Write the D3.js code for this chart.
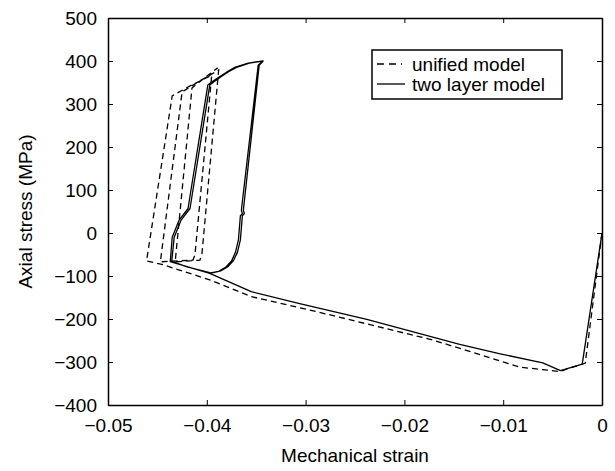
<!DOCTYPE html>
<html>
<head>
<meta charset="utf-8">
<script src="https://cdn.jsdelivr.net/npm/d3@7"></script>
<style>
  body { margin: 0; background: #fff; }
  text { font-family: "Liberation Sans", Arial, sans-serif; fill: #000; }
</style>
</head>
<body>
<div id="chart"></div>
<script>
// strain / stress pairs
var solidStrain = [0, -0.0020, -0.0042, -0.0060, -0.0103, -0.0144, -0.0238, -0.0306, -0.0355, -0.0397, -0.0437,
  // first cycle
  -0.0435, -0.0428, -0.0419, -0.0399, -0.0394, -0.0388, -0.0380, -0.0371, -0.0358, -0.0343,
  -0.0348, -0.0365, -0.0364, -0.0366, -0.0368, -0.0371, -0.0375, -0.0381, -0.0388, -0.0396, -0.0420, -0.04355,
  // second cycle
  -0.0433, -0.0426, -0.0417, -0.0397, -0.0392, -0.0386, -0.0378, -0.0369, -0.0357, -0.0343,
  -0.0347, -0.0363, -0.0362, -0.0364, -0.0366, -0.0369, -0.0373, -0.0379, -0.0386, -0.0393];
var solidStress = [0, -305, -320, -302, -281, -259, -201, -164, -136.5, -94, -66.7,
  -10, 30, 57, 344, 353, 362, 374, 386, 395, 400.5,
  390, 53, 45, 40, -16, -45, -65, -80, -89, -93, -79, -66,
  -10, 30, 57, 344, 353, 363, 375, 386, 395, 400,
  390, 53, 45, 40, -16, -45, -64, -79, -88, -92];

var dashedStrain = [0, -0.0017, -0.0043, -0.0083, -0.0171, -0.0285, -0.0355, -0.0397, -0.0444, -0.0461,
  -0.0435, -0.0417, -0.0395,
  -0.0412, -0.0414, -0.0447,
  -0.0425, -0.0407, -0.0388,
  -0.0405, -0.0407, -0.0432,
  -0.0415, -0.0402, -0.0389];
var dashedStress = [0, -303, -322, -312, -249, -185, -148, -109, -74, -65,
  319, 342, 367,
  -51, -63, -67,
  328, 354, 379,
  -51, -63, -67,
  337, 361, 384];

var xTicks = [-0.05, -0.04, -0.03, -0.02, -0.01, 0];
var xTickLabels = ["\u22120.05", "\u22120.04", "\u22120.03", "\u22120.02", "\u22120.01", "0"];
var yTicks = [-400, -300, -200, -100, 0, 100, 200, 300, 400, 500];
var yTickLabels = ["\u2212400", "\u2212300", "\u2212200", "\u2212100", "0", "100", "200", "300", "400", "500"];
var seriesNames = ["unified model", "two layer model"];

var svgWidth = 615;
var svgHeight = 471;
var margin = {top: 18, right: 13, bottom: 66, left: 108};
var width = svgWidth - margin.left - margin.right;
var height = svgHeight - margin.top - margin.bottom;

var svg = d3.select("#chart")
  .append("svg")
  .attr("width", svgWidth)
  .attr("height", svgHeight);

var chartGroup = svg.append("g")
  .attr("transform", `translate(${margin.left}, ${margin.top})`);

var xScale = d3.scaleLinear().domain([-0.05, 0]).range([0, width]);
var yScale = d3.scaleLinear().domain([-400, 500]).range([height, 0]);

// inward ticks on all four sides, matlab style
var xAxis = d3.axisBottom(xScale).tickValues(xTicks)
  .tickFormat((d, i) => xTickLabels[i]).tickSizeInner(-5).tickSizeOuter(0).tickPadding(14);
var yAxis = d3.axisLeft(yScale).tickValues(yTicks)
  .tickFormat((d, i) => yTickLabels[i]).tickSizeInner(-5).tickSizeOuter(0).tickPadding(11);

var gx = chartGroup.append("g").attr("transform", `translate(0, ${height})`).call(xAxis);
var gy = chartGroup.append("g").call(yAxis);
var gxTop = chartGroup.append("g").call(d3.axisTop(xScale).tickValues(xTicks).tickFormat("").tickSizeInner(-5).tickSizeOuter(0));
var gyRight = chartGroup.append("g").attr("transform", `translate(${width}, 0)`)
  .call(d3.axisRight(yScale).tickValues(yTicks).tickFormat("").tickSizeInner(-5).tickSizeOuter(0));

[gx, gy, gxTop, gyRight].forEach(function(g) {
  g.select(".domain").attr("stroke", "#000").attr("stroke-width", 1.5);
  g.selectAll(".tick line").attr("stroke", "#000").attr("stroke-width", 1);
  g.selectAll(".tick text").attr("font-size", "19px")
    .attr("font-family", "Liberation Sans, Arial, sans-serif").attr("fill", "#000");
});

var line = d3.line()
  .x(d => xScale(d[0]))
  .y(d => yScale(d[1]));

var dashedData = dashedStrain.map((s, i) => [s, dashedStress[i]]);
var solidData = solidStrain.map((s, i) => [s, solidStress[i]]);

chartGroup.append("path")
  .datum(dashedData)
  .attr("d", line)
  .attr("fill", "none")
  .attr("stroke", "#000")
  .attr("stroke-width", 1.3)
  .attr("stroke-dasharray", "6,4");

chartGroup.append("path")
  .datum(solidData)
  .attr("d", line)
  .attr("fill", "none")
  .attr("stroke", "#000")
  .attr("stroke-width", 1.3)
  .attr("stroke-linejoin", "round");

// legend
var legend = svg.append("g").attr("transform", "translate(372, 50)");
legend.append("rect")
  .attr("width", 190).attr("height", 49)
  .attr("fill", "#fff").attr("stroke", "#000").attr("stroke-width", 1.5);
legend.append("line")
  .attr("x1", 5).attr("x2", 30).attr("y1", 14).attr("y2", 14)
  .attr("stroke", "#000").attr("stroke-width", 1.3).attr("stroke-dasharray", "7,5");
legend.append("line")
  .attr("x1", 5).attr("x2", 33).attr("y1", 34).attr("y2", 34)
  .attr("stroke", "#000").attr("stroke-width", 1.3);
legend.selectAll("text.leg")
  .data(seriesNames)
  .enter()
  .append("text")
  .attr("class", "leg")
  .attr("x", 40)
  .attr("y", (d, i) => 14 + i * 20)
  .attr("dy", "0.36em")
  .attr("font-size", "19px")
  .text(d => d);

// axis labels
svg.append("text")
  .attr("transform", `translate(${margin.left + width / 2}, 455)`)
  .attr("text-anchor", "middle")
  .attr("dy", "0.36em")
  .attr("font-size", "19px")
  .text("Mechanical strain");

svg.append("text")
  .attr("transform", `translate(25, ${margin.top + height / 2}) rotate(-90)`)
  .attr("text-anchor", "middle")
  .attr("dy", "0.36em")
  .attr("font-size", "19px")
  .text("Axial stress (MPa)");
</script>
</body>
</html>
